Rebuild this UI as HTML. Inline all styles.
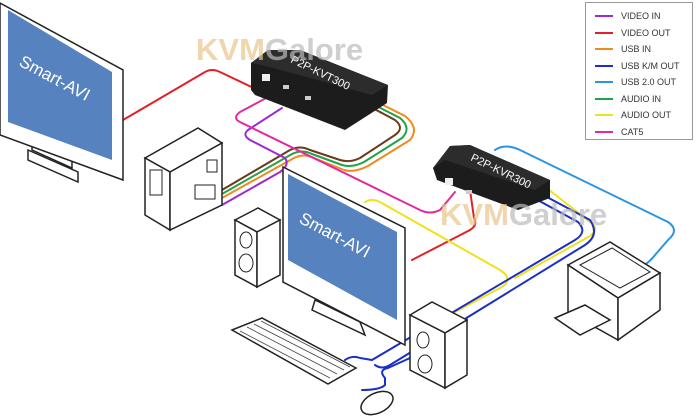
<!DOCTYPE html>
<html><head><meta charset="utf-8"><style>
html,body{margin:0;padding:0;background:#fff;}
svg{display:block;font-family:"Liberation Sans",sans-serif;}
</style></head><body>
<svg width="697" height="419" viewBox="0 0 697 419" xmlns="http://www.w3.org/2000/svg">
<g fill="none" stroke-width="2" stroke-linejoin="round" stroke-linecap="round">
<path d="M222,190 L290,150 Q300,145 310,150 L340,160 Q350,163 360,158 L395,135 Q405,128 395,120 L335,88" stroke="#6b3a1a"/>
<path d="M222,194 L292,154 Q302,149 312,154 L342,165 Q352,168 364,162 L402,138 Q412,128 400,118 L330,82" stroke="#1fa24a"/>
<path d="M222,198 L294,158 Q304,153 314,158 L344,170 Q354,173 368,166 L410,140 Q420,128 405,116 L325,76" stroke="#f08a1a"/>
<path d="M222,205 L280,172 Q290,165 285,158 L250,140 Q242,135 248,130 L282,108" stroke="#9b2bd1"/>
<path d="M270,96 L240,112 Q232,118 240,122 L420,210 Q430,215 440,210 L455,192" stroke="#e2299e"/>
<path d="M123,120 L205,72 Q212,68 220,72 L300,110 Q305,112 310,108 L318,104" stroke="#e3202a"/>
<path d="M412,260 L470,230 Q478,225 474,218 L470,190" stroke="#e3202a"/>
<path d="M365,202 Q372,198 380,202 L500,270 Q515,280 500,288 L440,320" stroke="#f0e020"/>
<path d="M515,278 L590,236 Q600,228 590,222 L530,175" stroke="#f0e020"/>
<path d="M345,360 Q352,355 360,358 L372,360 L575,240 Q588,232 578,222 L510,185" stroke="#1a2fc7"/>
<path d="M375,365 Q382,370 390,365 L585,245 Q600,235 590,220 L515,180" stroke="#1a2fc7"/>
<path d="M362,390 Q380,390 385,385 L385,378 Q378,370 388,368 L410,358" stroke="#1a2fc7"/>
<path d="M640,268 Q650,262 655,255 L668,240 Q680,230 668,222 L520,150 Q505,143 495,150" stroke="#2a95e0"/>
</g>

<!-- Left monitor -->
<polygon points="32,140 72,158 72,168 32,150" fill="#fff" stroke="#222" stroke-width="1.5"/>
<polygon points="28,150 78,172 78,182 28,160" fill="#fff" stroke="#222" stroke-width="1.5"/>
<polygon points="0,3 123,70 123,180 0,135" fill="#fff" stroke="#222" stroke-width="1.5"/>
<polygon points="8,10 112,72 112,160 8,122" fill="#5683bf"/>
<text x="18" y="65" fill="#fff" font-size="17" transform="rotate(28 18 65)">Smart-AVI</text>

<!-- Tower -->
<polygon points="145,158 198,128 222,143 170,172" fill="#fff" stroke="#222" stroke-width="1.5"/>
<polygon points="145,158 170,172 170,230 145,215" fill="#fff" stroke="#222" stroke-width="1.5"/>
<polygon points="170,172 222,143 222,205 170,230" fill="#fff" stroke="#222" stroke-width="1.5"/>
<rect x="150" y="170" width="12" height="25" fill="none" stroke="#222"/>
<rect x="207" y="160" width="10" height="12" fill="none" stroke="#222"/>
<rect x="195" y="185" width="20" height="14" fill="none" stroke="#222"/>

<!-- Box1 -->
<polygon points="251,63 268,50 300,50 388,85 387,103 345,130 255,95 251,90" fill="#1c1c1c"/>
<polygon points="251,63 268,50 300,50 388,85 372,95 270,67" fill="#2c2c2c"/>
<rect x="262" y="74" width="8" height="7" fill="#eee"/>
<rect x="283" y="85" width="6" height="4" fill="#ccc"/>
<rect x="305" y="96" width="6" height="4" fill="#ccc"/>
<text x="290" y="62" fill="#fff" font-size="11" transform="rotate(26 290 62)">P2P-KVT300</text>

<!-- Box2 -->
<polygon points="433,168 450,146 470,145 550,180 550,198 518,210 437,180" fill="#1c1c1c"/>
<polygon points="433,168 450,146 470,145 550,180 535,190 445,160" fill="#2c2c2c"/>
<rect x="445" y="178" width="8" height="7" fill="#eee"/>
<rect x="466" y="190" width="6" height="4" fill="#ccc"/>
<text x="470" y="160" fill="#fff" font-size="11" transform="rotate(26 470 160)">P2P-KVR300</text>

<!-- watermarks -->
<text x="196" y="60" font-size="31" font-weight="bold" fill="#e8c48a" fill-opacity="0.7">KVM<tspan fill="#bbb">Galore</tspan></text>
<text x="440" y="225" font-size="31" font-weight="bold" fill="#e8c48a" fill-opacity="0.7">KVM<tspan fill="#bbb">Galore</tspan></text>

<!-- Speaker left -->
<polygon points="235,220 258,208 280,220 257,232" fill="#fff" stroke="#222" stroke-width="1.5"/>
<polygon points="235,220 257,232 257,287 235,275" fill="#fff" stroke="#222" stroke-width="1.5"/>
<polygon points="257,232 280,220 280,275 257,287" fill="#fff" stroke="#222" stroke-width="1.5"/>
<ellipse cx="246" cy="240" rx="6" ry="8" fill="none" stroke="#222"/>
<ellipse cx="246" cy="263" rx="7" ry="9" fill="none" stroke="#222"/>

<!-- Monitor 2 -->
<polygon points="315,300 360,322 365,335 312,310" fill="#fff" stroke="#222" stroke-width="1.5"/>
<polygon points="283,167 405,228 405,345 283,282" fill="#fff" stroke="#222" stroke-width="1.5"/>
<polygon points="288,174 397,232 397,320 288,260" fill="#5683bf"/>
<text x="298" y="222" fill="#fff" font-size="17" transform="rotate(28 298 222)">Smart-AVI</text>

<!-- Speaker right -->
<polygon points="410,315 432,302 467,320 445,333" fill="#fff" stroke="#222" stroke-width="1.5"/>
<polygon points="410,315 445,333 445,388 410,370" fill="#fff" stroke="#222" stroke-width="1.5"/>
<polygon points="445,333 467,320 467,375 445,388" fill="#fff" stroke="#222" stroke-width="1.5"/>
<ellipse cx="423" cy="340" rx="6" ry="8" fill="none" stroke="#222"/>
<ellipse cx="425" cy="364" rx="7" ry="9" fill="none" stroke="#222"/>

<!-- Keyboard -->
<polygon points="232,330 262,318 356,368 328,384" fill="#fff" stroke="#222" stroke-width="1.5"/>
<g stroke="#444" stroke-width="0.8">
<line x1="240" y1="331" x2="330" y2="378"/><line x1="247" y1="327" x2="337" y2="374"/>
<line x1="254" y1="324" x2="344" y2="370"/><line x1="261" y1="321" x2="350" y2="367"/>
</g>

<!-- Mouse -->
<ellipse cx="377" cy="403" rx="17" ry="10" fill="#fff" stroke="#222" stroke-width="1.5" transform="rotate(-25 377 403)"/>

<!-- Printer -->
<polygon points="568,265 610,242 660,273 618,298" fill="#fff" stroke="#222" stroke-width="1.5"/>
<polygon points="568,265 618,298 618,340 568,312" fill="#fff" stroke="#222" stroke-width="1.5"/>
<polygon points="618,298 660,273 660,310 618,340" fill="#fff" stroke="#222" stroke-width="1.5"/>
<polygon points="555,318 585,305 610,320 580,335" fill="#fff" stroke="#222" stroke-width="1.5"/>
<polygon points="580,265 612,248 650,272 620,288" fill="none" stroke="#222"/>

<!-- Legend -->
<rect x="585.5" y="2.5" width="107" height="137" fill="#fff" stroke="#999"/>
<g stroke-width="2">
<line x1="595" y1="16" x2="613" y2="16" stroke="#9b2bd1"/>
<line x1="595" y1="33" x2="613" y2="33" stroke="#e3202a"/>
<line x1="595" y1="49" x2="613" y2="49" stroke="#f08a1a"/>
<line x1="595" y1="66" x2="613" y2="66" stroke="#1a2fc7"/>
<line x1="595" y1="82" x2="613" y2="82" stroke="#2a95e0"/>
<line x1="595" y1="99" x2="613" y2="99" stroke="#1fa24a"/>
<line x1="595" y1="115" x2="613" y2="115" stroke="#f0e020"/>
<line x1="595" y1="132" x2="613" y2="132" stroke="#e2299e"/>
</g>
<g font-size="9" fill="#333">
<text x="621" y="19">VIDEO IN</text>
<text x="621" y="36">VIDEO OUT</text>
<text x="621" y="52">USB IN</text>
<text x="621" y="69">USB K/M OUT</text>
<text x="621" y="85">USB 2.0 OUT</text>
<text x="621" y="102">AUDIO IN</text>
<text x="621" y="118">AUDIO OUT</text>
<text x="621" y="135">CAT5</text>
</g>
</svg>
</body></html>
